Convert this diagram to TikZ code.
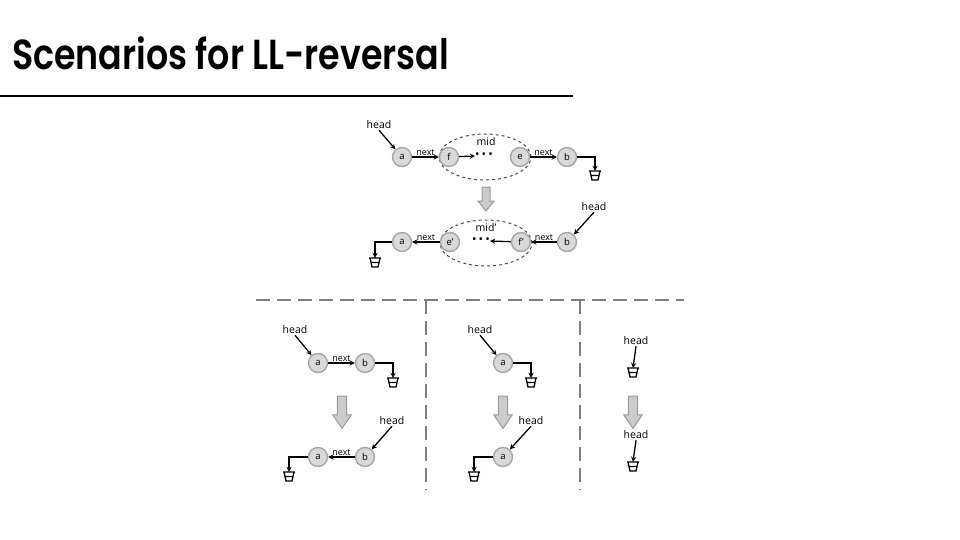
\documentclass[tikz,border=0pt]{standalone}
\usepackage{fontspec}
\setmainfont{Open Sans}
\newfontfamily\titlefont{Poppins}[UprightFont=* SemiBold]
\usetikzlibrary{shapes,arrows,calc,positioning}

\tikzset{
	elem/.style={circle,fill=black!15,draw=black!35,line width=1.4pt,minimum size=19pt,inner sep=0pt,font=\fontsize{9.5}{9.5}\selectfont},
	lnk/.style={->,>=stealth,line width=1.3pt},
	lbl/.style={font=\fontsize{9}{9}\selectfont,inner sep=1pt},
	hd/.style={font=\fontsize{10.5}{10.5}\selectfont,inner sep=1pt},
	dotrow/.style={font=\fontsize{12}{12}\selectfont,inner sep=0pt},
	grp/.style={ellipse,draw=black!70,dashed,line width=1pt,minimum width=92pt,minimum height=46pt},
	sep/.style={draw=black!50,line width=1.8pt,dash pattern=on 14pt off 7pt},
	ground/.pic={\draw[line width=1.3pt] (-6,0) -- (6,0) (-5,0) -- (-3,9) -- (3,9) -- (5,0) (-4,4.5) -- (4,4.5);},
	turn/.pic={\draw[fill=black!20,draw=black!40,line width=1pt] (-4,0) -- (4,0) -- (4,14) -- (8,14) -- (0,24) -- (-8,14) -- (-4,14) -- cycle;}
}

\begin{document}
\begin{tikzpicture}[x=1pt,y=-1pt]
	\useasboundingbox (0,0) rectangle (960,540);
	
	\node[anchor=base west,inner sep=0pt,font=\titlefont\fontsize{42}{42}\selectfont] (title) at (12,70) {\scalebox{0.83}[1]{Scenarios for LL-reversal}};
	\draw[line width=2pt] (0,96) -- (573,96);
	
	% general case
	\node[grp]	(mid1)	at (485,157)	{};
	\node[hd]	(midl1)	at (486,142)	{mid};
	\node[elem]	(a1)	at (402,157)	{a};
	\node[elem]	(f1)	at (449,157)	{f};
	\node[elem]	(e1)	at (520,157)	{e};
	\node[elem]	(b1)	at (567,157)	{b};
	\node[dotrow]	(dots1)	at (484,156)	{\textbullet\,\textbullet\,\textbullet};
	\node[hd]	(head1)	at (379,125)	{head};
	\coordinate	(g1)	at (595,171);
	\pic at (g1) {ground};
	
	\draw[lnk]	(head1.south) -- (a1);
	\draw[lnk]	(a1) -- node[lbl,above] {next} (f1);
	\draw[lnk]	(f1) -- (dots1.west);
	\draw[lnk]	(e1) -- node[lbl,above] {next} (b1);
	\draw[lnk]	(b1.east) -| (g1);
	
	\pic at (486,187) {turn};
	
	\node[grp]	(mid2)	at (486,243)	{};
	\node[hd]	(midl2)	at (486,228)	{mid'};
	\node[elem]	(a2)	at (402,242)	{a};
	\node[elem]	(e2)	at (450,242)	{e'};
	\node[elem]	(f2)	at (521,242)	{f'};
	\node[elem]	(b2)	at (567,242)	{b};
	\node[dotrow]	(dots2)	at (481,241)	{\textbullet\,\textbullet\,\textbullet};
	\node[hd]	(head2)	at (594,207)	{head};
	\coordinate	(g2)	at (375,258);
	\pic at (g2) {ground};
	
	\draw[lnk]	(head2.south) -- (b2);
	\draw[lnk]	(b2) -- node[lbl,above] {next} (f2);
	\draw[lnk]	(f2) -- (dots2.east);
	\draw[lnk]	(e2) -- node[lbl,above] {next} (a2);
	\draw[lnk]	(a2.west) -| (g2);
	
	% separators
	\draw[sep]	(256,300) -- (684,300);
	\draw[sep]	(426,300) -- (426,490);
	\draw[sep]	(580,300) -- (580,490);
	
	% two elements
	\node[elem]	(a3)	at (318,363)	{a};
	\node[elem]	(b3)	at (365,363)	{b};
	\node[hd]	(head3)	at (295,330)	{head};
	\coordinate	(g3)	at (393,378);
	\pic at (g3) {ground};
	\draw[lnk]	(head3.south) -- (a3);
	\draw[lnk]	(a3) -- node[lbl,above] {next} (b3);
	\draw[lnk]	(b3.east) -| (g3);
	
	\pic[xscale=1.15,yscale=1.35] at (342,396) {turn};
	
	\node[elem]	(a4)	at (318,457)	{a};
	\node[elem]	(b4)	at (365,457)	{b};
	\node[hd]	(head4)	at (392,421)	{head};
	\coordinate	(g4)	at (289,472);
	\pic at (g4) {ground};
	\draw[lnk]	(head4.south) -- (b4);
	\draw[lnk]	(b4) -- node[lbl,above] {next} (a4);
	\draw[lnk]	(a4.west) -| (g4);
	
	% one element
	\node[elem]	(a5)	at (503,363)	{a};
	\node[hd]	(head5)	at (480,330)	{head};
	\coordinate	(g5)	at (531,378);
	\pic at (g5) {ground};
	\draw[lnk]	(head5.south) -- (a5);
	\draw[lnk]	(a5.east) -| (g5);
	
	\pic[xscale=1.15,yscale=1.35] at (503,396) {turn};
	
	\node[elem]	(a6)	at (503,457)	{a};
	\node[hd]	(head6)	at (531,421)	{head};
	\coordinate	(g6)	at (474,472);
	\pic at (g6) {ground};
	\draw[lnk]	(head6.south) -- (a6);
	\draw[lnk]	(a6.west) -| (g6);
	
	% empty list
	\node[hd]	(head7)	at (636,341)	{head};
	\coordinate	(g7)	at (633,368);
	\pic at (g7) {ground};
	\draw[lnk]	(head7.south) -- (g7);
	
	\pic[xscale=1.15,yscale=1.35] at (633,396) {turn};
	
	\node[hd]	(head8)	at (636,435)	{head};
	\coordinate	(g8)	at (633,462);
	\pic at (g8) {ground};
	\draw[lnk]	(head8.south) -- (g8);
\end{tikzpicture}
\end{document}
